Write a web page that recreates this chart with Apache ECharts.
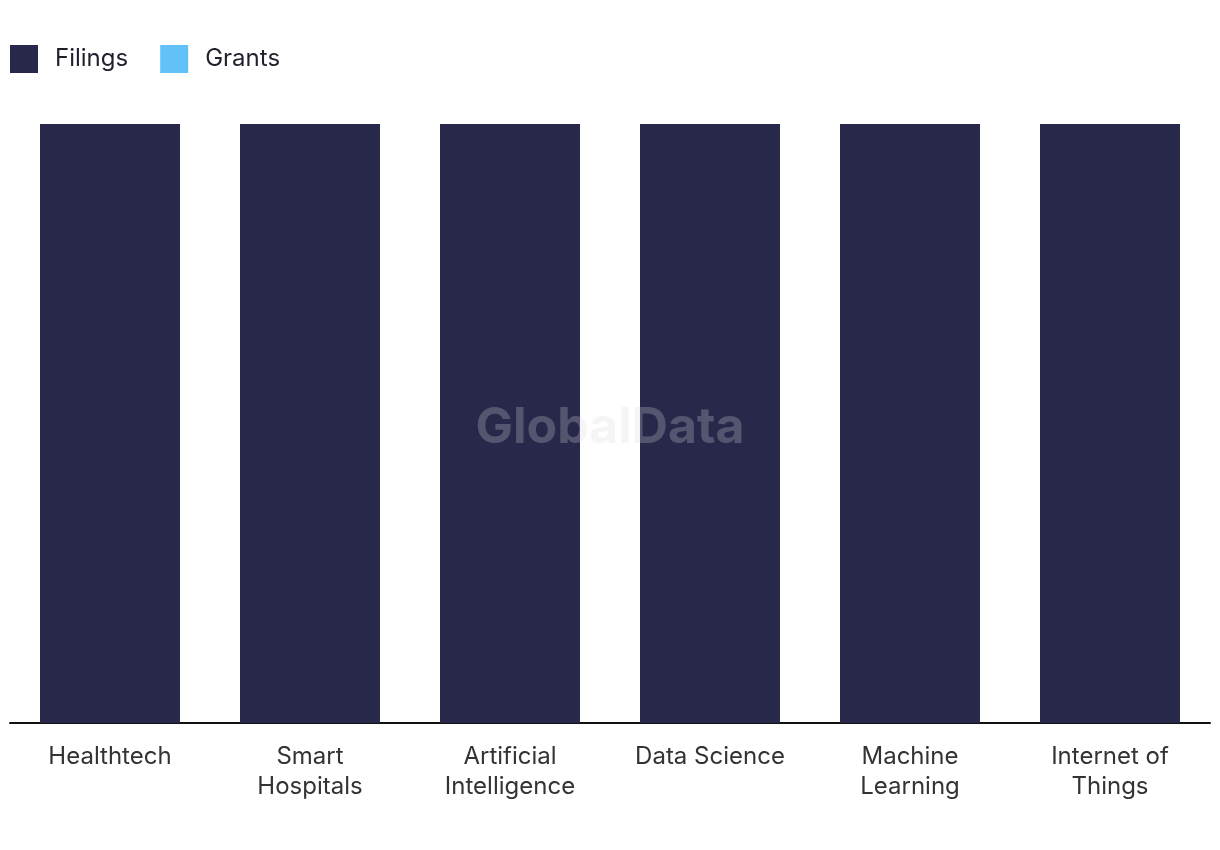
<!DOCTYPE html>
<html>
<head>
<meta charset="utf-8">
<style>
  html, body { margin: 0; padding: 0; background: #ffffff; }
  #chart { width: 1220px; height: 850px; }
</style>
<script src="https://cdn.jsdelivr.net/npm/echarts@6/dist/echarts.min.js"></script>
</head>
<body>
<div id="chart"></div>
<script>
// Themes along the x axis
const categories = ['Healthtech', 'Smart\nHospitals', 'Artificial\nIntelligence', 'Data Science', 'Machine\nLearning', 'Internet of\nThings'];
// Patent counts per theme
const filings = [1, 1, 1, 1, 1, 1];
const grants = [0, 0, 0, 0, 0, 0];

const chart = echarts.init(document.getElementById('chart'));
const font = 'Inter, "Noto Sans", sans-serif';

chart.setOption({
  animation: false,
  textStyle: { fontFamily: font },
  legend: {
    left: 10,
    top: 45,
    padding: 0,
    itemWidth: 28,
    itemHeight: 28,
    itemGap: 32,
    icon: 'rect',
    textStyle: { fontSize: 24, color: '#1f1f2e', fontFamily: font, padding: [0, 0, 0, 12] },
    data: ['Filings', 'Grants']
  },
  grid: { left: 10, right: 10, top: 124, bottom: 127, containLabel: false },
  xAxis: {
    type: 'category',
    data: categories,
    axisLine: { lineStyle: { color: '#111111', width: 2 } },
    axisTick: { show: false },
    axisLabel: { fontSize: 24, color: '#333333', lineHeight: 30, margin: 19, fontFamily: font, interval: 0 }
  },
  yAxis: {
    type: 'value',
    min: 0,
    max: 1,
    show: false,
    splitLine: { show: false }
  },
  series: [
    {
      name: 'Filings',
      type: 'bar',
      data: filings,
      barWidth: '70%',
      barGap: '-100%',
      itemStyle: { color: '#28284a' }
    },
    {
      name: 'Grants',
      type: 'bar',
      data: grants,
      barWidth: '70%',
      itemStyle: { color: '#62c2f8' }
    }
  ],
  graphic: [{
    type: 'text',
    left: 'center',
    top: 403,
    z: 100,
    style: {
      text: 'GlobalData',
      font: 'bold 50px ' + font,
      fill: 'rgba(215,215,225,0.26)'
    }
  }]
});
</script>
</body>
</html>
